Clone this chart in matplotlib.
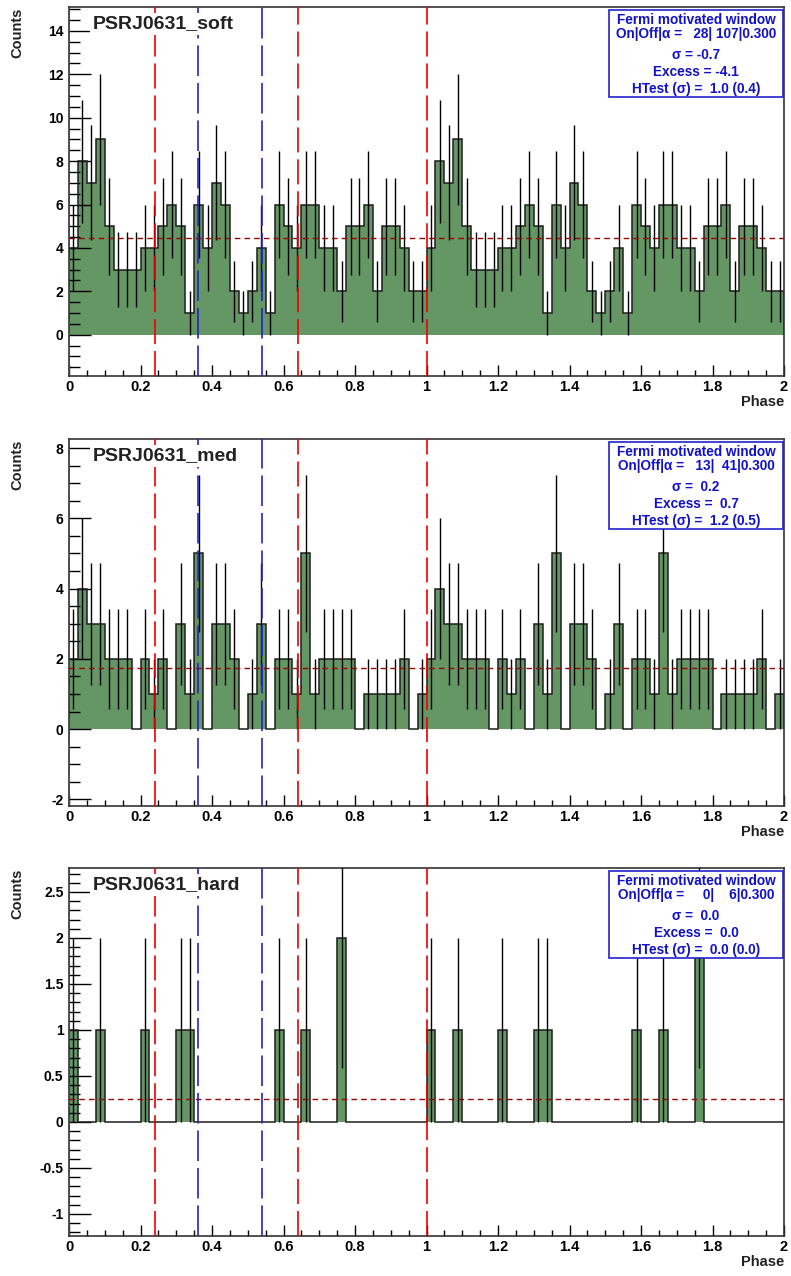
import numpy as np
import matplotlib
matplotlib.use('Agg')
import matplotlib.pyplot as plt
from matplotlib.patches import Rectangle

plt.rcParams['font.family'] = ['Liberation Sans', 'DejaVu Sans']
plt.rcParams['font.weight'] = 'bold'
plt.rcParams['lines.scale_dashes'] = False

W, H = 791, 1276

# Phase histogram: 40 bins per rotation, shown over two rotations
n_cycles = 2
soft_cycle = [4, 8, 7, 9, 5, 3, 3, 3, 4, 4, 5, 6, 5, 1, 6, 4, 7, 6, 2, 1,
              2, 4, 1, 6, 5, 4, 6, 6, 4, 4, 2, 5, 5, 6, 2, 5, 5, 4, 2, 2]
med_cycle = [2, 4, 3, 3, 2, 2, 2, 0, 2, 1, 2, 0, 3, 1, 5, 0, 3, 3, 2, 0,
             1, 3, 0, 2, 2, 1, 5, 1, 2, 2, 2, 2, 0, 1, 1, 1, 1, 2, 0, 1]
hard_cycle = [1, 0, 0, 1, 0, 0, 0, 0, 1, 0, 0, 0, 1, 1, 0, 0, 0, 0, 0, 0,
              0, 0, 0, 1, 0, 0, 1, 0, 0, 0, 2, 0, 0, 0, 0, 0, 0, 0, 0, 0]

names = ["PSRJ0631_soft", "PSRJ0631_med", "PSRJ0631_hard"]
cycles = [soft_cycle, med_cycle, hard_cycle]
levels = [4.45, 1.73, 0.25]
ylims = [(-1.9, 15.1), (-2.19, 8.26), (-1.24, 2.76)]
ymajor = [2, 2, 0.5]
yminor = [0.5, 0.5, 0.1]

on_off = ["28| 107", "13|  41", "  0|    6"]
alpha = "0.300"
sigma = ["-0.7", " 0.2", " 0.0"]
excess = ["-4.1", " 0.7", " 0.0"]
htest = [" 1.0 (0.4)", " 1.2 (0.5)", " 0.0 (0.0)"]

red_lines = [0.0, 0.24, 0.64, 1.0]
blue_lines = [0.36, 0.54]

# panel frames in pixels: left, top, right, bottom
frames = [(69, 7, 784, 376), (69, 439, 784, 806), (69, 868, 784, 1236)]

fill_col = '#659765'

fig = plt.figure(figsize=(W / 100, H / 100), dpi=100)


def fx(x):
    return x / W


def fy(y):
    return 1 - y / H


for i in range(3):
    l, t, r, b = frames[i]
    ax = fig.add_axes([fx(l), fy(b), (r - l) / W, (b - t) / H])
    counts = np.tile(np.array(cycles[i], dtype=float), n_cycles)
    edges = np.linspace(0, n_cycles, len(counts) + 1)
    centers = 0.5 * (edges[:-1] + edges[1:])

    ax.stairs(counts, edges, fill=True, color=fill_col, lw=0, zorder=1)
    ax.stairs(counts, edges, color='#1e1e1e', lw=1.1, zorder=2)
    nz = counts > 0
    err = np.sqrt(counts[nz])
    ax.vlines(centers[nz], counts[nz] - err, counts[nz] + err,
              color='black', lw=1.0, zorder=3)

    ax.axhline(levels[i], color='#990000', lw=1.0, ls=(0, (4, 3)), zorder=4)
    for xv in red_lines:
        ax.axvline(xv, color='#ee0000', lw=1.2, ls=(0, (18, 5)), zorder=5)
    for xv in blue_lines:
        ax.axvline(xv, color='#2222cc', lw=1.2, ls=(0, (22, 5)), zorder=5)

    ax.set_xlim(0, 2)
    ax.set_ylim(*ylims[i])
    ax.set_xticks(np.arange(0, 2.001, 0.2))
    ax.set_xticks(np.arange(0, 2.001, 0.05), minor=True)
    ax.set_xticklabels(['0', '0.2', '0.4', '0.6', '0.8', '1', '1.2', '1.4',
                        '1.6', '1.8', '2'])
    lo, hi = ylims[i]
    yt = np.arange(np.ceil(lo / ymajor[i]) * ymajor[i], hi + 1e-9, ymajor[i])
    ax.set_yticks(yt)
    ax.set_yticklabels(['%g' % v if abs(v) > 1e-9 else '0' for v in yt])
    ax.set_yticks(np.arange(np.ceil(lo / yminor[i]) * yminor[i], hi + 1e-9,
                            yminor[i]), minor=True)
    ax.tick_params(axis='x', which='major', direction='in', length=8,
                   width=1, labelsize=10.5, pad=3)
    ax.tick_params(axis='x', which='minor', direction='in', length=4, width=1)
    ax.tick_params(axis='y', which='major', direction='in', length=15.5,
                   width=1, labelsize=10, pad=4)
    ax.tick_params(axis='y', which='minor', direction='in', length=8, width=1)
    for lab in ax.get_xticklabels() + ax.get_yticklabels():
        lab.set_fontweight('bold')
    for s in ax.spines.values():
        s.set_color('#333333')
        s.set_linewidth(1.2)

    ax.annotate(names[i], xy=(0, 1), xycoords='axes fraction',
                xytext=(24, -17), textcoords='offset pixels',
                fontsize=14, fontweight='bold', ha='left', va='center',
                color='#222222', zorder=10,
                bbox=dict(boxstyle='square,pad=0.15', fc='white', ec='none'))

    # y title and x title
    fig.text(fx(17), fy(t + 1), 'Counts', rotation=90, ha='center', va='top',
             fontsize=10.5, fontweight='bold', color='#222222')
    fig.text(fx(784), fy(b + 26), 'Phase', ha='right', va='center',
             fontsize=10.5, fontweight='bold', color='#222222')

    # statistics box
    bx0, bx1 = 609, 783
    by0, by1 = t + 3, t + 90
    fig.patches.append(Rectangle((fx(bx0), fy(by1)), (bx1 - bx0) / W,
                                 (by1 - by0) / H, transform=fig.transFigure,
                                 fc='white', ec='#2222cc', lw=1.2, zorder=20))
    lines = ["Fermi motivated window",
             "On|Off|\u03b1 =   %s|%s" % (on_off[i], alpha),
             "\u03c3 = %s" % sigma[i],
             "Excess = %s" % excess[i],
             "HTest (\u03c3) = %s" % htest[i]]
    offs = [13, 27, 48, 65, 82]
    for txt, o in zip(lines, offs):
        fig.text(fx((bx0 + bx1) / 2), fy(t + o), txt, ha='center',
                 va='center', fontsize=9.8, fontweight='bold',
                 color='#1111cc', zorder=21)

fig.savefig('out.png', dpi=100)
